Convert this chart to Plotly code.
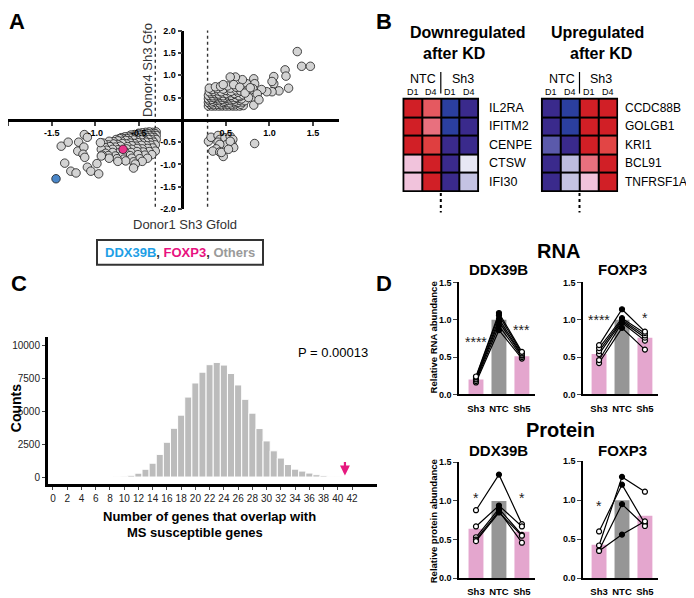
import plotly.graph_objects as go

# The page body has an 8px margin, so the figure is drawn 8px in from the top-left corner.
OX, OY = 8, 8
W, H = 694 - OX, 598 - OY
FONT = "Liberation Sans, Arial, sans-serif"


def PX(x):
    return (x - OX) / W


def PY(y):
    return 1 - (y - OY) / H


# ---------------- Panel A data (Donor1 vs Donor4 Sh3 fold change) ----------------
a_upper_right = [
    (0.30, 0.31), (0.34, 0.31), (0.38, 0.31), (0.42, 0.31), (0.46, 0.31), (0.50, 0.31), (0.54, 0.31),
    (0.58, 0.31), (0.62, 0.31), (0.66, 0.31), (0.70, 0.32),
    (0.32, 0.35), (0.36, 0.34), (0.41, 0.35), (0.45, 0.34), (0.49, 0.36), (0.53, 0.35), (0.57, 0.34),
    (0.61, 0.36), (0.67, 0.35),
    (0.30, 0.39), (0.34, 0.38), (0.38, 0.40), (0.43, 0.38), (0.47, 0.39), (0.51, 0.40), (0.55, 0.38),
    (0.60, 0.40), (0.64, 0.39), (0.69, 0.40),
    (0.31, 0.43), (0.35, 0.42), (0.39, 0.44), (0.43, 0.43), (0.48, 0.42), (0.52, 0.44), (0.56, 0.43),
    (0.61, 0.42), (0.66, 0.44), (0.72, 0.43),
    (0.30, 0.47), (0.34, 0.46), (0.38, 0.48), (0.42, 0.47), (0.46, 0.46), (0.50, 0.48), (0.55, 0.47),
    (0.59, 0.46), (0.63, 0.48), (0.68, 0.47),
    (0.32, 0.51), (0.36, 0.50), (0.40, 0.52), (0.44, 0.51), (0.48, 0.50), (0.53, 0.52), (0.57, 0.51),
    (0.62, 0.50), (0.66, 0.52),
    (0.30, 0.55), (0.35, 0.54), (0.39, 0.56), (0.43, 0.55), (0.47, 0.54), (0.52, 0.56), (0.56, 0.55),
    (0.61, 0.57), (0.65, 0.54), (0.70, 0.56),
    (0.33, 0.59), (0.37, 0.60), (0.42, 0.58), (0.46, 0.60), (0.51, 0.59), (0.55, 0.61), (0.60, 0.59),
    (0.64, 0.62),
    (0.31, 0.63), (0.36, 0.64), (0.41, 0.65), (0.45, 0.63), (0.50, 0.66), (0.56, 0.64), (0.62, 0.67),
    (0.67, 0.65),
    (0.34, 0.68), (0.40, 0.70), (0.47, 0.69), (0.55, 0.71), (0.62, 0.73),
    (0.31, 0.71), (0.38, 0.74), (0.52, 0.76), (0.44, 0.75),
    (1.32, 1.53), (1.37, 1.20), (1.47, 1.20), (1.18, 1.12), (1.19, 0.98), (1.22, 0.71), (1.05, 0.81),
    (1.05, 0.97), (1.03, 0.86), (1.11, 0.65), (1.03, 0.63), (0.97, 0.63), (0.91, 0.68), (0.82, 0.92),
    (0.83, 0.81), (0.81, 0.70), (0.78, 0.59), (0.82, 0.50), (0.82, 0.33), (0.74, 0.81), (0.69, 0.90),
    (0.61, 0.96), (0.55, 0.96), (0.47, 0.79), (0.59, 0.79), (0.66, 0.73), (0.74, 0.65), (0.76, 0.50),
    (0.72, 0.60), (0.78, 0.72), (0.86, 0.58), (0.88, 0.45), (1.90, 1.73),
]
a_lower_right = [
    (0.30, -0.48), (0.33, -0.39), (0.41, -0.35), (0.43, -0.44), (0.41, -0.50), (0.49, -0.40),
    (0.55, -0.37), (0.58, -0.44), (0.57, -0.55), (0.59, -0.62), (0.51, -0.55), (0.43, -0.55),
    (0.39, -0.65), (0.35, -0.70), (0.43, -0.72), (0.47, -0.82), (0.45, -0.73), (0.55, -0.48),
    (0.83, -0.53), (0.53, -0.66),
]
a_lower_left = [
    (-0.30, -0.27), (-0.34, -0.28), (-0.38, -0.27), (-0.42, -0.28), (-0.46, -0.29), (-0.50, -0.30),
    (-0.31, -0.31), (-0.35, -0.32), (-0.39, -0.31), (-0.43, -0.32), (-0.47, -0.33), (-0.51, -0.32),
    (-0.55, -0.33), (-0.59, -0.34),
    (-0.30, -0.35), (-0.34, -0.36), (-0.38, -0.35), (-0.42, -0.36), (-0.46, -0.37), (-0.50, -0.36),
    (-0.54, -0.37), (-0.58, -0.38), (-0.62, -0.37), (-0.66, -0.38), (-0.70, -0.40),
    (-0.32, -0.40), (-0.36, -0.39), (-0.40, -0.40), (-0.44, -0.41), (-0.48, -0.40), (-0.52, -0.41),
    (-0.56, -0.42), (-0.60, -0.41), (-0.64, -0.42), (-0.68, -0.43), (-0.72, -0.42), (-0.76, -0.44),
    (-0.30, -0.44), (-0.35, -0.45), (-0.39, -0.44), (-0.43, -0.46), (-0.47, -0.45), (-0.52, -0.46),
    (-0.56, -0.45), (-0.61, -0.47), (-0.65, -0.46), (-0.70, -0.48), (-0.74, -0.47), (-0.79, -0.49),
    (-0.84, -0.48),
    (-0.33, -0.50), (-0.37, -0.51), (-0.42, -0.50), (-0.46, -0.52), (-0.51, -0.51), (-0.55, -0.53),
    (-0.60, -0.52), (-0.64, -0.54), (-0.69, -0.53), (-0.74, -0.55), (-0.79, -0.54), (-0.85, -0.56),
    (-0.91, -0.52),
    (-0.31, -0.56), (-0.36, -0.57), (-0.41, -0.58), (-0.47, -0.57), (-0.53, -0.59), (-0.58, -0.58),
    (-0.63, -0.60), (-0.71, -0.59), (-0.77, -0.61), (-0.83, -0.60), (-0.89, -0.62),
    (-0.34, -0.63), (-0.40, -0.64), (-0.46, -0.65), (-0.52, -0.64), (-0.58, -0.66), (-0.64, -0.65),
    (-0.74, -0.67), (-0.80, -0.66), (-0.87, -0.68), (-0.93, -0.66),
    (-0.31, -0.70), (-0.38, -0.71), (-0.45, -0.72), (-0.52, -0.71), (-0.59, -0.73), (-0.66, -0.72),
    (-0.73, -0.74), (-0.80, -0.73), (-0.88, -0.75),
    (-0.35, -0.78), (-0.43, -0.79), (-0.51, -0.78), (-0.60, -0.80), (-0.69, -0.79), (-0.77, -0.81),
    (-0.85, -0.80), (-0.92, -0.79),
    (-0.40, -0.86), (-0.49, -0.87), (-0.58, -0.86), (-0.67, -0.88), (-0.75, -0.87), (-0.84, -0.86),
    (-0.46, -0.93), (-0.56, -0.94), (-0.65, -0.92), (-0.74, -0.93), (-0.54, -0.99), (-0.56, -1.08),
    (-1.39, -0.59), (-1.31, -0.50), (-1.35, -0.97), (-1.28, -1.15), (-1.22, -1.19), (-1.19, -0.50),
    (-1.20, -0.70), (-1.13, -0.61), (-1.14, -0.77), (-1.12, -0.84), (-1.09, -1.06), (-1.05, -1.15),
    (-1.125, -0.33), (-1.09, -0.39), (-0.98, -0.98), (-0.96, -1.21), (-0.94, -0.51), (-0.93, -0.81),
]
a_foxp3 = (-0.68, -0.66)
a_ddx39b = (-1.45, -1.32)
a_cutoffs = [-0.31, 0.29]

# ---------------- Panel B data (heatmaps) ----------------
hm_cols = ["D1", "D4", "D1", "D4"]
down_genes = ["IL2RA", "IFITM2", "CENPE", "CTSW", "IFI30"]
down_z = [
    [1.0, 0.56, -0.8, -1.0],
    [1.0, 0.40, -0.8, -1.0],
    [1.0, 0.75, -1.0, -1.0],
    [0.10, 1.0, -1.0, -0.04],
    [0.10, 1.0, -1.0, -0.10],
]
up_genes = ["CCDC88B", "GOLGB1", "KRI1", "BCL91", "TNFRSF1A"]
up_z = [
    [-1.0, -0.8, 1.0, 1.0],
    [-1.0, -0.8, 1.0, 1.0],
    [-0.4, -1.0, 1.0, 0.70],
    [-1.0, -0.12, 0.40, 1.0],
    [-1.0, -0.10, 0.10, 1.0],
]
hm_colorscale = [
    [0.0, "#3a2a8c"], [0.1, "#2b3f9f"], [0.3, "#5b5aab"], [0.45, "#c4c3e3"], [0.5, "#ffffff"],
    [0.55, "#f1c3dc"], [0.7, "#e8707e"], [0.85, "#e24545"], [1.0, "#d11f26"],
]

# ---------------- Panel C data (histogram of overlaps) ----------------
c_overlap = list(range(0, 46))
c_counts = [0, 0, 0, 0, 0, 0, 1, 3, 10, 25, 60, 130, 290, 590, 1050, 1720, 2640, 3700, 4700, 6070,
            7140, 7960, 8530, 8700, 8500, 7860, 6990, 5900, 4850, 3680, 2740, 1990, 1440, 950, 600,
            450, 300, 175, 100, 50, 25, 12, 6, 3, 1, 1]
c_observed = 41
c_xticks = list(range(0, 43, 2))
c_yticks = [0, 2500, 5000, 7500, 10000]
c_yticktext = ["0", "2500", "5000", "7500", "10000"]

# ---------------- Panel D data (qPCR / protein) ----------------
d_groups = ["Sh3", "NTC", "Sh5"]
rna_ddx_bar = [0.20, 1.0, 0.51]
rna_ddx_sh3 = [0.16, 0.18, 0.20, 0.21, 0.23, 0.24]
rna_ddx_ntc = [0.86, 0.92, 0.97, 1.01, 1.06, 1.09]
rna_ddx_sh5 = [0.48, 0.50, 0.52, 0.53, 0.55, 0.57]

rna_fox_bar = [0.54, 1.0, 0.76]
rna_fox_sh3 = [0.42, 0.46, 0.54, 0.58, 0.62, 0.66]
rna_fox_ntc = [0.89, 0.96, 0.98, 1.00, 1.02, 1.14]
rna_fox_sh5 = [0.60, 0.72, 0.76, 0.79, 0.82, 0.84]

prot_ddx_bar = [0.64, 1.0, 0.60]
prot_ddx_sh3 = [0.88, 0.67, 0.53, 0.50, 0.48]
prot_ddx_ntc = [1.34, 0.94, 0.90, 0.87, 0.85]
prot_ddx_sh5 = [0.70, 0.67, 0.56, 0.46, 0.55]

prot_fox_bar = [0.43, 1.0, 0.80]
prot_fox_sh3 = [0.42, 0.60, 0.36, 0.35]
prot_fox_ntc = [1.30, 1.20, 0.95, 0.56]
prot_fox_sh5 = [1.11, 0.70, 0.67, 0.73]

PINK = "#e4a6ce"
GRAY = "#969696"

fig = go.Figure()

# ---- Panel A traces ----
others = a_upper_right + a_lower_right + a_lower_left
for cx in a_cutoffs:
    fig.add_trace(go.Scatter(x=[cx, cx], y=[2.02, -1.95], mode="lines", xaxis="x", yaxis="y",
                             line=dict(color="#333", width=1.4, dash="dot"), hoverinfo="skip"))
fig.add_trace(go.Scatter(x=[p[0] for p in others], y=[p[1] for p in others], mode="markers",
                         xaxis="x", yaxis="y", cliponaxis=False,
                         marker=dict(size=8.5, color="#d3d3d3", line=dict(color="#1a1a1a", width=0.8))))
fig.add_trace(go.Scatter(x=[a_foxp3[0]], y=[a_foxp3[1]], mode="markers", xaxis="x", yaxis="y",
                         marker=dict(size=8.5, color="#e8338a", line=dict(color="#1a1a1a", width=0.8))))
fig.add_trace(go.Scatter(x=[a_ddx39b[0]], y=[a_ddx39b[1]], mode="markers", xaxis="x", yaxis="y",
                         marker=dict(size=8.5, color="#4a86c8", line=dict(color="#1a1a1a", width=0.8))))

# ---- Panel B heatmaps ----
for z, ax in [(down_z, "2"), (up_z, "3")]:
    fig.add_trace(go.Heatmap(z=z, x=[0, 1, 2, 3], y=[0, 1, 2, 3, 4], xaxis="x" + ax, yaxis="y" + ax,
                             colorscale=hm_colorscale, zmin=-1, zmax=1, showscale=False,
                             xgap=2, ygap=2, hoverinfo="skip"))

# ---- Panel C histogram ----
fig.add_trace(go.Bar(x=c_overlap, y=c_counts, xaxis="x4", yaxis="y4", width=1.0,
                     marker=dict(color="#bcbcbc", line=dict(color="white", width=1))))

# ---- Panel D ----
panels_d = [
    ("5", rna_ddx_bar, rna_ddx_sh3, rna_ddx_ntc, rna_ddx_sh5),
    ("6", rna_fox_bar, rna_fox_sh3, rna_fox_ntc, rna_fox_sh5),
    ("7", prot_ddx_bar, prot_ddx_sh3, prot_ddx_ntc, prot_ddx_sh5),
    ("8", prot_fox_bar, prot_fox_sh3, prot_fox_ntc, prot_fox_sh5),
]
for ax, bars, s3, nt, s5 in panels_d:
    fig.add_trace(go.Bar(x=[0, 1, 2], y=bars, xaxis="x" + ax, yaxis="y" + ax, width=0.65,
                         marker=dict(color=[PINK, GRAY, PINK], line=dict(width=0))))
    for a, b, c in zip(s3, nt, s5):
        fig.add_trace(go.Scatter(x=[0, 1, 2], y=[a, b, c], xaxis="x" + ax, yaxis="y" + ax,
                                 mode="lines+markers", cliponaxis=False,
                                 line=dict(color="black", width=1.2),
                                 marker=dict(size=5, color=["white", "black", "white"],
                                             line=dict(color="black", width=1.2))))

# ---------------- Layout ----------------
noax = dict(showline=False, showticklabels=False, ticks="", showgrid=False, zeroline=False)
layout = dict(
    width=W, height=H, margin=dict(l=0, r=0, t=0, b=0), showlegend=False,
    paper_bgcolor="white", plot_bgcolor="rgba(0,0,0,0)",
    font=dict(family=FONT, color="black"),
    xaxis=dict(domain=[PX(8.1), PX(339.1)], range=[-2.0, 1.8], anchor="free", position=PY(116.7),
               showline=True, linecolor="black", linewidth=2.5, ticks="outside", ticklen=4, tickwidth=2,
               tickvals=[-2, -1.5, -1, -0.5, 0.5, 1, 1.5],
               ticktext=["-2.0", "-1.5", "-1.0", "-0.5", "0.5", "1.0", "1.5"],
               tickfont=dict(size=9, weight="bold"), showgrid=False, zeroline=False),
    yaxis=dict(domain=[PY(207.5), PY(25.9)], range=[-2.0, 2.0], anchor="free", position=PX(182.3),
               showline=True, linecolor="black", linewidth=2.5, ticks="outside", ticklen=4, tickwidth=2,
               tickvals=[-2, -1.5, -1, -0.5, 0.5, 1, 1.5, 2],
               ticktext=["-2.0", "-1.5", "-1.0", "-0.5", "0.5", "1.0", "1.5", "2.0"],
               tickfont=dict(size=9, weight="bold"), showgrid=False, zeroline=False),
    xaxis2=dict(domain=[PX(403.3), PX(478.3)], range=[-0.5, 3.5], anchor="y2", **noax),
    yaxis2=dict(domain=[PY(189.3), PY(95)], range=[4.5, -0.5], anchor="x2", **noax),
    xaxis3=dict(domain=[PX(541.7), PX(617.3)], range=[-0.5, 3.5], anchor="y3", **noax),
    yaxis3=dict(domain=[PY(189.3), PY(95)], range=[4.5, -0.5], anchor="x3", **noax),
    xaxis4=dict(domain=[PX(48), PX(377)], range=[-0.7, 45.5], anchor="y4", showline=True,
                linecolor="black", linewidth=3, ticks="outside", ticklen=3, tickwidth=1,
                tickvals=c_xticks, tickfont=dict(size=10, color="#222"), showgrid=False, zeroline=False),
    yaxis4=dict(domain=[PY(487), PY(338)], range=[-520, 10600], anchor="x4", showline=True,
                linecolor="black", linewidth=3, ticks="outside", ticklen=3, tickwidth=1,
                tickvals=c_yticks, ticktext=c_yticktext, tickfont=dict(size=10, color="#222"),
                showgrid=False, zeroline=False),
)
d_x = {"5": (459, 535, -0.74), "6": (583, 658, -0.70), "7": (459, 535, -0.74), "8": (583, 658, -0.70)}
d_y = {"5": (396, 282), "6": (396, 282), "7": (583, 465), "8": (583, 464)}
for ax in ["5", "6", "7", "8"]:
    x0, x1, lo = d_x[ax]
    y0, y1 = d_y[ax]
    layout["xaxis" + ax] = dict(domain=[PX(x0), PX(x1)], range=[lo, 2.57], anchor="y" + ax,
                                showline=True, linecolor="black", linewidth=1.6, ticks="",
                                tickvals=[0, 1, 2], ticktext=d_groups, ticklabelstandoff=4,
                                tickfont=dict(size=9.5, weight="bold"), showgrid=False, zeroline=False)
    layout["yaxis" + ax] = dict(domain=[PY(y0), PY(y1)], range=[0, 1.5], anchor="x" + ax,
                                showline=True, linecolor="black", linewidth=1.6, ticks="outside",
                                ticklen=4, tickwidth=1.4, tickvals=[0, 0.5, 1.0, 1.5],
                                ticktext=["0.0", "0.5", "1.0", "1.5"],
                                tickfont=dict(size=9, weight="bold"), showgrid=False, zeroline=False)
fig.update_layout(**layout)

# ---------------- Shapes ----------------
shapes = []
for ax in ["2", "3"]:
    shapes.append(dict(type="rect", xref="x%s domain" % ax, yref="y%s domain" % ax, x0=0, x1=1, y0=0, y1=1,
                       fillcolor="black", line=dict(width=0), layer="below"))
    shapes.append(dict(type="rect", xref="x%s domain" % ax, yref="y%s domain" % ax, x0=0, x1=1, y0=0, y1=1,
                       fillcolor="rgba(0,0,0,0)", line=dict(color="black", width=1.5), layer="above"))
for bx in [440.8, 579.5]:
    shapes.append(dict(type="line", xref="paper", yref="paper", x0=PX(bx), x1=PX(bx), y0=PY(68), y1=PY(90),
                       line=dict(color="black", width=1.2)))
    shapes.append(dict(type="line", xref="paper", yref="paper", x0=PX(bx), x1=PX(bx), y0=PY(191), y1=PY(211),
                       line=dict(color="black", width=2, dash="dot")))
shapes.append(dict(type="rect", xref="paper", yref="paper", x0=PX(97), x1=PX(263), y0=PY(264), y1=PY(239),
                   fillcolor="white", line=dict(color="#333", width=2)))
fig.update_layout(shapes=shapes)

# ---------------- Annotations ----------------
anns = []


def ann(text, x, y, size, color="black", xanchor="center", angle=0, **kw):
    anns.append(dict(text=text, x=PX(x), y=PY(y), xref="paper", yref="paper", showarrow=False,
                     font=dict(size=size, color=color, family=FONT), xanchor=xanchor, yanchor="middle",
                     textangle=angle, **kw))


# panel letters
ann("<b>A</b>", 17, 17, 22)
ann("<b>B</b>", 384, 17, 22)
ann("<b>C</b>", 19, 283, 22)
ann("<b>D</b>", 384, 283, 22)

# panel A texts
ann("Donor4 Sh3 Gfo", 147, 66, 13, color="#333", angle=-90)
ann("Donor1 Sh3 Gfold", 185, 223, 13, color="#333")
ann("<b><span style='color:#1e9fe6'>DDX39B</span>, <span style='color:#e8127f'>FOXP3</span>, "
    "<span style='color:#9a9a9a'>Others</span></b>", 180, 252, 13, color="#333")

# panel B texts
ann("<b>Downregulated</b>", 468, 28, 16)
ann("<b>after KD</b>", 454, 49, 16)
ann("<b>Upregulated</b>", 597.5, 28, 16)
ann("<b>after KD</b>", 601, 49, 16)
for cx_ntc, cx_sh3, col_c in [(423, 462.5, [412.7, 431.4, 450.2, 468.9]),
                              (561.7, 600.8, [551.1, 570.0, 588.9, 607.8])]:
    ann("NTC", cx_ntc, 75, 12.5)
    ann("Sh3", cx_sh3, 75, 12.5)
    for lab, cx in zip(hm_cols, col_c):
        ann(lab, cx, 88.5, 9)
row_c = [104.4, 123.3, 142.2, 161.0, 179.9]
for g, ry in zip(down_genes, row_c):
    ann(g, 486.7, ry, 12.5, xanchor="left")
for g, ry in zip(up_genes, row_c):
    ann(g, 623, ry, 12, xanchor="left")

# panel C texts
ann("P = 0.00013", 333, 353, 13)
ann("<b>Counts</b>", 16, 410, 14, angle=-90)
ann("<b>Number of genes that overlap with</b>", 209, 520, 13)
ann("<b>MS susceptible genes</b>", 195, 536, 13)
anns.append(dict(x=c_observed, y=120, xref="x4", yref="y4", ax=c_observed, ay=1250, axref="x4", ayref="y4",
                 showarrow=True, arrowhead=2, arrowsize=0.9, arrowwidth=2.2, arrowcolor="#e6197f", text=""))

# panel D texts
ann("<b>RNA</b>", 558, 250, 20)
ann("<b>DDX39B</b>", 498, 269, 15)
ann("<b>FOXP3</b>", 622, 269, 15)
ann("<b>Protein</b>", 560, 432, 20)
ann("<b>DDX39B</b>", 498, 453, 15)
ann("<b>FOXP3</b>", 622, 453, 15)
ann("<b>Relative RNA abundance</b>", 433, 338, 9.5, angle=-90)
ann("<b>Relative protein abundance</b>", 433, 525, 9.5, angle=-90)

stars = [("5", 0, 0.76, "****"), ("5", 2, 0.91, "***"), ("6", 0, 1.05, "****"), ("6", 2, 1.08, "*"),
         ("7", 0, 1.09, "*"), ("7", 2, 1.09, "*"), ("8", 0, 0.98, "*")]
for ax, sx, sy, st in stars:
    anns.append(dict(text=st, x=sx, y=sy, xref="x" + ax, yref="y" + ax, showarrow=False,
                     font=dict(size=14, family=FONT, color="#222"), yanchor="middle", yshift=-4))

fig.update_layout(annotations=anns)
fig.write_html("out.html")
